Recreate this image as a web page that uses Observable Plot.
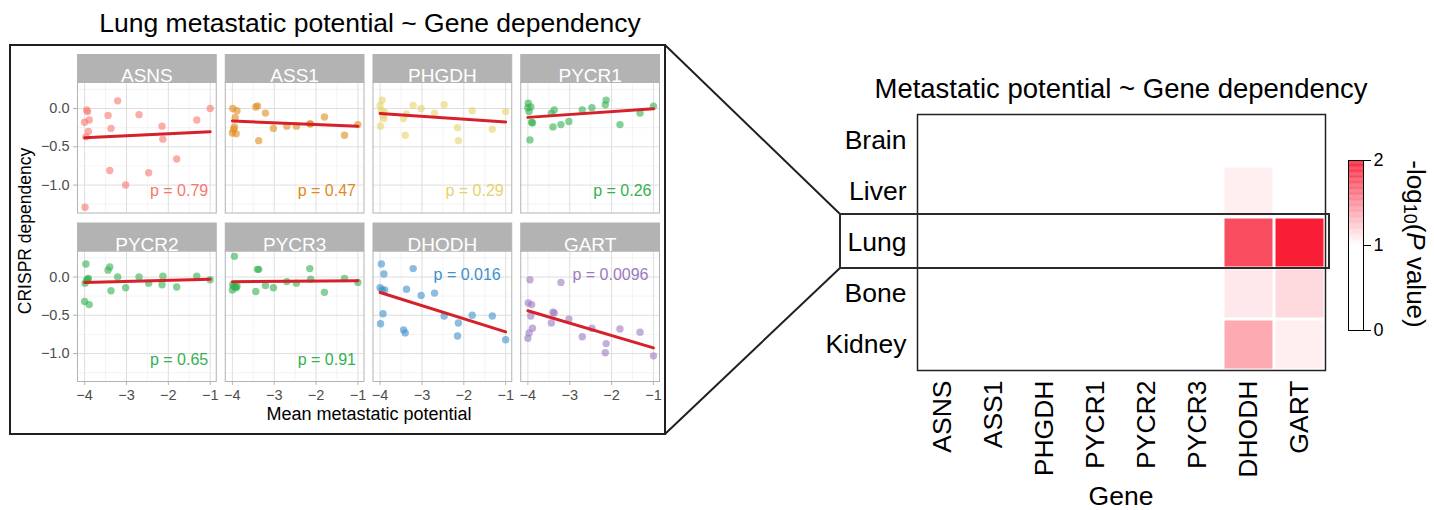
<!DOCTYPE html>
<html>
<head>
<meta charset="utf-8">
<script src="https://cdn.jsdelivr.net/npm/d3@7"></script>
<script src="https://cdn.jsdelivr.net/npm/@observablehq/plot@0.6"></script>
<style>
  html, body { margin: 0; padding: 0; background: #fff; }
  #root { position: relative; width: 1434px; height: 510px; overflow: hidden; font-family: "Liberation Sans", Arial, Helvetica, sans-serif; color: #000; }
  .abs { position: absolute; }
  .lbl { position: absolute; white-space: nowrap; transform: translate(-50%, -50%); }
</style>
</head>
<body>
<div id="root">
  <div id="scatter" class="abs" style="left:0;top:0"></div>
  <div id="heat" class="abs" style="left:780px;top:100px"></div>
  <div id="legend" class="abs" style="left:1340px;top:150px"></div>
  <div class="lbl" style="left:370px;top:23px;font-size:26.5px">Lung metastatic potential ~ Gene dependency</div>
  <div class="lbl" style="left:369px;top:414px;font-size:18px">Mean metastatic potential</div>
  <div class="lbl" style="left:25px;top:231px;font-size:17.5px;transform:translate(-50%,-50%) rotate(-90deg)">CRISPR dependency</div>
  <div class="lbl" style="left:1121px;top:89px;font-size:27.5px">Metastatic potential ~ Gene dependency</div>
  <div class="lbl" style="left:1121px;top:496px;font-size:26.5px">Gene</div>
  <svg class="abs" style="left:0;top:0;pointer-events:none" width="1434" height="510">
    <rect x="10" y="45" width="655" height="389" fill="none" stroke="#231f20" stroke-width="2"/>
    <line x1="665" y1="45" x2="840" y2="214" stroke="#231f20" stroke-width="2"/>
    <line x1="665" y1="434" x2="840" y2="268" stroke="#231f20" stroke-width="2"/>
    <rect x="840" y="214" width="489" height="54" fill="none" stroke="#2b2b2b" stroke-width="2"/>
    <text transform="translate(1416,244) rotate(90)" text-anchor="middle" dominant-baseline="central" font-size="26" font-family="Liberation Sans, Arial, sans-serif">-log<tspan dy="6" font-size="18">10</tspan><tspan dy="-6">(</tspan><tspan font-style="italic">P</tspan> value)</text>
  </svg>
</div>
<script>
// ---------------- Data ----------------
const genes = ["ASNS", "ASS1", "PHGDH", "PYCR1", "PYCR2", "PYCR3", "DHODH", "GART"];
const geneColors = ["#F8766D", "#E08A1B", "#E6D36B", "#33B150", "#33B150", "#33B150", "#3D8FCE", "#9B79C0"];
const pValues = [0.79, 0.47, 0.29, 0.26, 0.65, 0.91, 0.016, 0.0096];

// mean metastatic potential of each cell line (shared x)
const potential = [-4.00, -3.99, -3.97, -3.95, -3.93, -3.91, -3.89, -3.44, -3.40, -3.37, -3.21, -3.02, -2.70, -2.47, -2.15, -2.13, -1.80, -1.32, -1.00];

// CRISPR dependency per gene (same cell-line order)
const depASNS  = [-0.18, -1.29, -0.37, -0.02, -0.04, -0.30, -0.15, -0.09, -0.81, -0.26, 0.10, -1.00, -0.08, -0.84, -0.23, -0.40, -0.66, -0.15, 0.00];
const depASS1  = [-0.32, 0.00, -0.27, -0.24, -0.12, -0.33, -0.03, 0.02, 0.035, -0.42, -0.06, -0.26, -0.23, -0.23, -0.20, -0.20, -0.11, -0.35, -0.21];
const depPHGDH = [0.04, -0.23, -0.03, 0.11, -0.09, -0.13, -0.05, -0.13, -0.35, -0.07, 0.04, 0.00, -0.06, 0.05, -0.25, -0.42, -0.03, -0.27, -0.04];
const depPYCR1 = [0.01, 0.07, -0.04, -0.41, 0.02, -0.18, -0.19, -0.06, -0.24, -0.02, -0.21, -0.17, -0.02, 0.01, 0.05, 0.11, -0.21, -0.06, 0.03];
const depPYCR2 = [-0.32, -0.08, 0.17, -0.04, -0.03, -0.02, -0.36, 0.09, 0.13, -0.18, 0.00, -0.14, 0.00, -0.08, -0.10, 0.01, -0.13, 0.01, -0.035];
const depPYCR3 = [-0.17, -0.10, -0.12, 0.27, -0.13, -0.14, -0.12, -0.19, 0.10, 0.10, -0.11, -0.14, -0.06, -0.08, 0.11, -0.03, -0.20, -0.02, -0.07];
const depDHODH = [-0.14, -0.61, 0.17, -0.17, -0.48, 0.04, -0.17, -0.69, -0.73, -0.16, 0.11, -0.24, -0.21, -0.51, -0.77, -0.60, -0.50, -0.51, -0.82];
const depGART  = [-0.80, -0.34, -0.73, -0.035, -0.51, -0.36, -0.67, -0.60, -0.46, -0.47, -0.07, -0.55, -0.78, -0.67, -0.99, -0.87, -0.68, -0.72, -1.03];
const dependency = [depASNS, depASS1, depPHGDH, depPYCR1, depPYCR2, depPYCR3, depDHODH, depGART];

const xMajor = [-4, -3, -2, -1];
const xMinor = [-3.5, -2.5, -1.5];
const yMajor = [0, -0.5, -1];
const yMinor = [0.25, -0.25, -0.75, -1.25];

// heatmap: -log10(P value) per tissue across genes
const tissues = ["Brain", "Liver", "Lung", "Bone", "Kidney"];
const heatBrain  = [0.30, 0.25, 0.40, 0.20, 0.35, 0.15, 0.60, 0.45];
const heatLiver  = [0.20, 0.35, 0.30, 0.25, 0.15, 0.40, 1.07, 0.70];
const heatLung   = pValues.map(p => -Math.log10(p));
const heatBone   = [0.25, 0.30, 0.20, 0.35, 0.30, 0.20, 1.10, 1.17];
const heatKidney = [0.35, 0.20, 0.45, 0.30, 0.25, 0.30, 1.38, 1.07];
const heatValues = [heatBrain, heatLiver, heatLung, heatBone, heatKidney];
const legendTicks = [0, 1, 2];

// ---------------- Scatter facets ----------------
const points = [];
genes.forEach((g, i) => potential.forEach((x, j) => points.push({gene: g, col: i % 4, row: Math.floor(i / 4), x, y: dependency[i][j]})));
const labels = genes.map((g, i) => ({gene: g, col: i % 4, row: Math.floor(i / 4), p: pValues[i], text: "p = " + pValues[i]}));

const W = 670, H = 440, mT = 82, mB = 59, mL = 77, mR = 11;
const rowGap = 38, colGap = 9;
const panelH = (H - mT - mB - rowGap) / 2;
const colW = (W - mL - mR - 3 * colGap) / 4;
const font = "Liberation Sans, Arial, Helvetica, sans-serif";

const scatter = Plot.plot({
  width: W, height: H,
  marginTop: mT, marginBottom: mB, marginLeft: mL, marginRight: mR,
  style: {fontFamily: font, background: "transparent", overflow: "visible"},
  facet: {marginTop: 0, marginRight: 0, marginBottom: 0, marginLeft: 0},
  fx: {domain: [0, 1, 2, 3], paddingInner: colGap / (colW + colGap), paddingOuter: 0, round: false, axis: null},
  fy: {domain: [0, 1], paddingInner: rowGap / (panelH + rowGap), paddingOuter: 0, round: false, axis: null},
  x: {domain: [-4.17, -0.855], label: null, axis: null},
  y: {domain: [-1.365, 0.34], label: null, axis: null},
  color: {domain: genes, range: geneColors},
  marks: [
    Plot.ruleX(xMinor, {stroke: "#ececec", strokeWidth: 0.6}),
    Plot.ruleY(yMinor, {stroke: "#ececec", strokeWidth: 0.6}),
    Plot.ruleX(xMajor, {stroke: "#dedede", strokeWidth: 1}),
    Plot.ruleY(yMajor, {stroke: "#dedede", strokeWidth: 1}),
    Plot.frame({fill: "#b3b3b3", stroke: "#b3b3b3", insetTop: -28, insetBottom: panelH}),
    Plot.frame({stroke: "#b3b3b3", strokeWidth: 1}),
    Plot.dot(points, {x: "x", y: "y", fx: "col", fy: "row", fill: "gene", fillOpacity: 0.6, r: 3.7}),
    Plot.linearRegressionY(points, {x: "x", y: "y", fx: "col", fy: "row", z: "gene", stroke: "#D7212A", strokeWidth: 3, ci: 0}),
    Plot.text(labels, {fx: "col", fy: "row", text: "gene", frameAnchor: "top", dy: -14, fill: "white", fontSize: 19}),
    Plot.text(labels.filter(d => d.p >= 0.05), {fx: "col", fy: "row", text: "text", frameAnchor: "bottom-right", textAnchor: "end", dx: -8, dy: -17, fill: "gene", fontSize: 16}),
    Plot.text(labels.filter(d => d.p < 0.05), {fx: "col", fy: "row", text: "text", frameAnchor: "top-right", textAnchor: "end", dx: -11, dy: 18, fill: "gene", fontSize: 16}),
    Plot.axisX({ticks: xMajor, tickFormat: d3.format("d"), tickSize: 4, tickPadding: 4, fontSize: 14.5, stroke: "#b3b3b3", fill: "#4d4d4d", label: null}),
    Plot.axisY({ticks: yMajor, tickFormat: d3.format(".1f"), tickSize: 4, tickPadding: 4, fontSize: 14.5, stroke: "#b3b3b3", fill: "#4d4d4d", label: null})
  ]
});
document.getElementById("scatter").append(scatter);

// ---------------- Heatmap ----------------
const cells = [];
tissues.forEach((t, i) => genes.forEach((g, j) => cells.push({tissue: t, gene: g, value: heatValues[i][j]})));
const colorOpts = {type: "linear", domain: [0, 1, 2], range: ["#ffffff", "#ffffff", "#F91E36"], interpolate: d3.interpolateRgb, clamp: true};

const heat = Plot.plot({
  width: 580, height: 410,
  marginTop: 14, marginBottom: 140, marginLeft: 137, marginRight: 35,
  style: {fontFamily: font, background: "transparent", overflow: "visible", color: "#000"},
  x: {domain: genes, padding: 0, label: null, axis: null},
  y: {domain: tissues, padding: 0, label: null, axis: null},
  color: colorOpts,
  marks: [
    Plot.cell(cells, {x: "gene", y: "tissue", fill: "value", inset: 1.5}),
    Plot.frame({stroke: "#222", strokeWidth: 1.5}),
    Plot.axisX({tickRotate: -90, tickSize: 0, tickPadding: 10, fontSize: 26.5, fill: "#000", label: null}),
    Plot.axisY({tickSize: 0, tickPadding: 11, fontSize: 26.5, fill: "#000", label: null})
  ]
});
document.getElementById("heat").append(heat);

// ---------------- Colour bar ----------------
const steps = d3.range(0, 2, 0.01);
const legend = Plot.plot({
  width: 60, height: 195,
  marginTop: 10, marginBottom: 15, marginLeft: 8, marginRight: 37,
  style: {fontFamily: font, background: "transparent", overflow: "visible", color: "#000"},
  x: {domain: [0, 1], axis: null},
  y: {domain: [0, 2], label: null, axis: null},
  color: colorOpts,
  marks: [
    Plot.rect(steps, {x1: 0, x2: 1, y1: d => d, y2: d => Math.min(2, d + 0.012), fill: d => d + 0.005}),
    Plot.frame({stroke: "#000", strokeWidth: 1}),
    Plot.axisY({anchor: "right", ticks: legendTicks, tickFormat: d3.format("d"), tickSize: 7, tickPadding: 3, fontSize: 18, fill: "#000", stroke: "#000", label: null})
  ]
});
document.getElementById("legend").append(legend);
</script>
</body>
</html>
